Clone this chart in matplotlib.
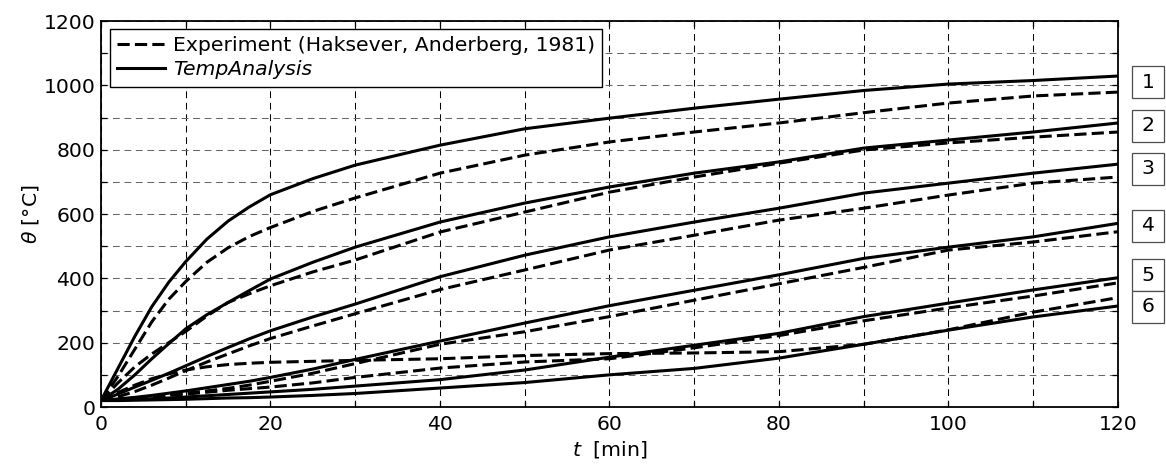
import matplotlib
matplotlib.use("Agg")
import matplotlib.pyplot as plt
from matplotlib.patches import Rectangle
from matplotlib.ticker import MultipleLocator, FuncFormatter

plt.rcParams['font.family'] = ['DejaVu Sans']
plt.rcParams['mathtext.fontset'] = 'dejavusans'

# time grid [min]
t = [0, 2, 4, 6, 8, 10, 12.5, 15, 17.5, 20, 25, 30, 40, 50, 60, 70, 80, 90, 100, 110, 120]

# TempAnalysis results [°C]
sim_1 = [20, 120, 220, 312, 388, 452, 522, 578, 622, 660, 710, 752, 814, 865, 898, 929, 957, 984, 1004, 1015, 1029]
sim_2 = [20, 55, 100, 150, 197, 243, 287, 325, 362, 398, 450, 497, 575, 634, 684, 727, 762, 805, 830, 855, 883]
sim_3 = [20, 40, 62, 83, 105, 128, 157, 185, 212, 237, 280, 320, 405, 472, 529, 575, 618, 665, 696, 727, 755]
sim_4 = [20, 25, 30, 36, 43, 50, 60, 70, 80, 92, 118, 148, 205, 261, 315, 363, 411, 462, 497, 529, 571]
sim_5 = [20, 22, 24, 26, 28, 31, 35, 39, 43, 47, 55, 65, 85, 115, 155, 192, 229, 281, 323, 364, 402]
sim_6 = [20, 20, 21, 22, 23, 24, 26, 28, 29, 31, 36, 42, 59, 76, 100, 120, 152, 195, 239, 280, 314]

# measurements (Haksever, Anderberg, 1981) [°C]
exp_1 = [20, 95, 180, 265, 335, 390, 450, 495, 530, 558, 608, 650, 727, 783, 824, 855, 883, 915, 945, 967, 979]
exp_2 = [20, 75, 125, 165, 200, 235, 283, 325, 352, 377, 420, 457, 544, 606, 668, 715, 758, 799, 821, 839, 855]
exp_3 = [20, 32, 48, 68, 90, 113, 140, 165, 190, 213, 252, 290, 365, 426, 488, 534, 581, 618, 659, 696, 715]
exp_4 = [20, 24, 28, 33, 38, 43, 50, 58, 68, 80, 105, 135, 195, 234, 281, 332, 383, 434, 488, 513, 545]
exp_5 = [20, 24, 28, 32, 36, 40, 46, 52, 57, 62, 75, 92, 121, 140, 150, 184, 222, 268, 308, 345, 386]
exp_6 = [20, 45, 68, 88, 103, 115, 125, 132, 136, 139, 142, 145, 150, 160, 166, 168, 172, 195, 240, 295, 340]

sim_series = [sim_1, sim_2, sim_3, sim_4, sim_5, sim_6]
exp_series = [exp_1, exp_2, exp_3, exp_4, exp_5, exp_6]

# curve numbers shown at the right edge, with their vertical positions [°C]
curve_labels = ["1", "2", "3", "4", "5", "6"]
label_levels = [1009, 875, 740, 563, 410, 311]

FS = 14.7
LW = 2.2
DASH = (0, (4.0, 1.7))

fig = plt.figure(figsize=(11.66, 4.66), dpi=100)
ax = fig.add_axes([0.0866, 0.1266, 0.8722, 0.8283])

for i, (e, s) in enumerate(zip(exp_series, sim_series)):
    ax.plot(t, e, color='k', lw=LW, linestyle=DASH,
            label='Experiment (Haksever, Anderberg, 1981)' if i == 0 else None)
    ax.plot(t, s, color='k', lw=LW, linestyle='-',
            label='TempAnalysis' if i == 0 else None)

ax.set_xlim(0, 120)
ax.set_ylim(0, 1200)
ax.xaxis.set_major_locator(MultipleLocator(10))
ax.yaxis.set_major_locator(MultipleLocator(100))
ax.xaxis.set_major_formatter(FuncFormatter(lambda v, p: f"{v:.0f}" if round(v) % 20 == 0 else ""))
ax.yaxis.set_major_formatter(FuncFormatter(lambda v, p: f"{v:.0f}" if round(v) % 200 == 0 else ""))
ax.tick_params(axis='both', which='major', direction='in', length=4, width=0.9,
               top=True, right=True, labelsize=FS, colors='k')
ax.tick_params(axis='x', pad=6)
ax.tick_params(axis='y', pad=4)

grid_dash = (0, (6.5, 4.5))
ax.xaxis.grid(True, color='k', lw=0.75, linestyle=grid_dash)
ax.yaxis.grid(True, color='0.4', lw=0.75, linestyle=grid_dash)
ax.set_axisbelow(True)

for sp in ax.spines.values():
    sp.set_linewidth(1.3)

ax.set_xlabel(r"$t$  [min]", fontsize=FS, labelpad=3)
ax.set_ylabel(r"$\theta$ [°C]", fontsize=FS, labelpad=2)

leg = ax.legend(loc='upper left', bbox_to_anchor=(0.0088, 0.979), borderaxespad=0,
                fontsize=FS, frameon=True, fancybox=False, handlelength=2.35,
                handletextpad=0.4, borderpad=0.35, labelspacing=0.25)
leg.get_frame().set_edgecolor('k')
leg.get_frame().set_linewidth(1.0)
leg.get_frame().set_alpha(1)
leg.texts[1].set_fontstyle('italic')

# numbered boxes beside the curve ends
bw, bh = 3.78, 99.5
bx = 123.54
for lab, lvl in zip(curve_labels, label_levels):
    ax.add_patch(Rectangle((bx - bw / 2, lvl - bh / 2), bw, bh, fill=True,
                           facecolor='white', edgecolor='0.3', lw=0.9, clip_on=False))
    ax.text(bx, lvl, lab, ha='center', va='center', fontsize=FS, clip_on=False)

fig.savefig("out.png", dpi=100)
